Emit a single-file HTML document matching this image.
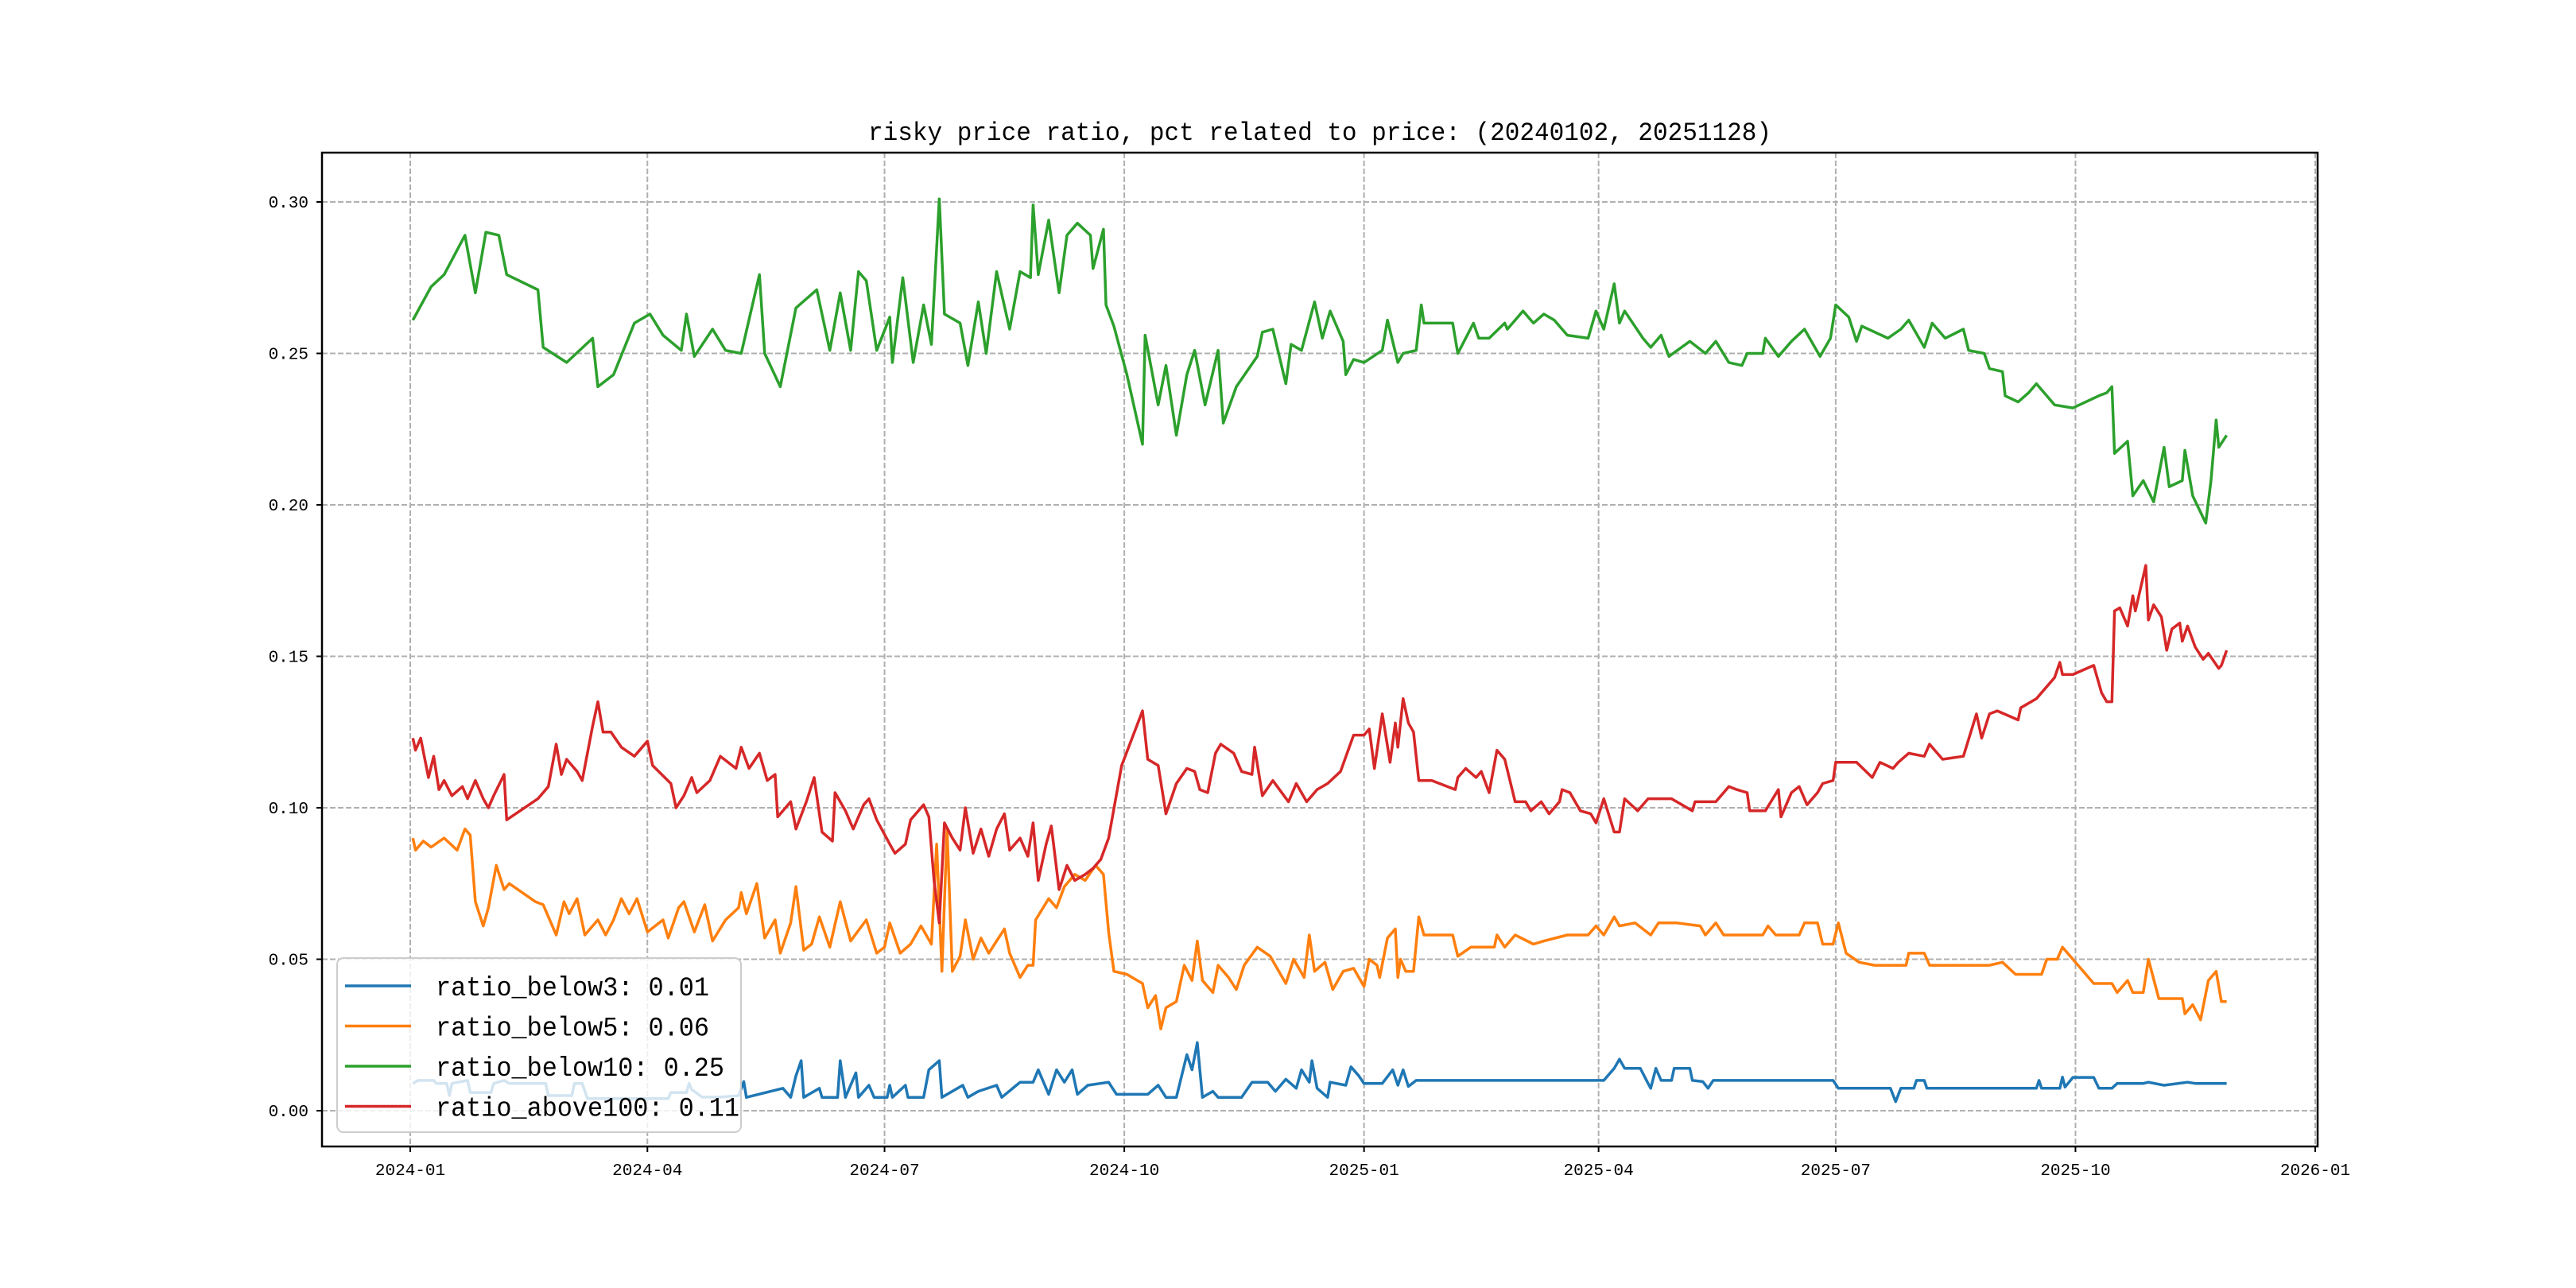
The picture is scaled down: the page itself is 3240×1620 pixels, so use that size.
<!DOCTYPE html>
<html><head><meta charset="utf-8"><style>
html,body{margin:0;padding:0;background:#fff;}
svg{display:block;}
text{font-family:"Liberation Mono","WenQuanYi Zen Hei",monospace;fill:#000;}
</style></head><body>
<svg id="chart" width="3240" height="1620" viewBox="0 0 3240 1620">
<rect width="3240" height="1620" fill="#fff"/>
<g id="grid"></g>
<g id="series"></g>
<rect x="405" y="192" width="2510" height="1250" fill="none" stroke="#000" stroke-width="2.5"/>
<g id="ticks"></g>
<text x="1660" y="176" text-anchor="middle" font-size="32" textLength="1136" lengthAdjust="spacingAndGlyphs">risky price ratio, pct related to price: (20240102, 20251128)</text>
<g id="legend"></g>
</svg>
<script>
const yTicks=[0.00,0.05,0.10,0.15,0.20,0.25,0.30];
const yTickLabels=["0.00","0.05","0.10","0.15","0.20","0.25","0.30"];
const xTickDays=[0,91,182,274,366,456,547,639,731];
const xTickLabels=["2024-01","2024-04","2024-07","2024-10","2025-01","2025-04","2025-07","2025-10","2026-01"];
const seriesNames=["ratio_below3: 0.01","ratio_below5: 0.06","ratio_below10: 0.25","ratio_above100: 0.11"];
const seriesColors=["#1f77b4","#ff7f0e","#2ca02c","#d62728"];

const blueDays=[1,3,9,10,14,15,16,22,23,31,32,36,38,52,53,62,63,66,68,99,100,106,107,108,112,119,126,128,129,143,146,148,150,151,157,158,164,165,167,171,172,176,178,183,184,185,190,191,197,199,203,204,212,214,218,225,227,234,239,241,245,248,251,254,256,260,268,271,283,287,290,294,298,300,302,304,308,310,319,323,329,332,336,340,342,345,346,348,352,353,359,361,364,366,373,377,379,381,383,386,458,462,464,466,472,475,476,478,480,484,485,491,492,496,498,500,546,548,568,570,572,577,578,581,582,624,625,626,633,634,635,638,646,648,653,655,665,667,673,682,685,697];
const blueValues=[0.009,0.010,0.010,0.009,0.009,0.005,0.009,0.010,0.006,0.006,0.009,0.010,0.009,0.009,0.005,0.005,0.009,0.009,0.004,0.004,0.006,0.006,0.009,0.007,0.0045,0.0045,0.005,0.0096,0.0044,0.0074,0.0044,0.0115,0.0165,0.0044,0.0074,0.0044,0.0044,0.0165,0.0044,0.0125,0.0044,0.0084,0.0044,0.0044,0.0084,0.0044,0.0084,0.0044,0.0044,0.0135,0.0165,0.0044,0.0084,0.0044,0.0064,0.0084,0.0044,0.0094,0.0094,0.0135,0.0054,0.0135,0.0094,0.0135,0.0054,0.0084,0.0094,0.0054,0.0054,0.0084,0.0044,0.0044,0.0185,0.0135,0.0225,0.0044,0.0064,0.0044,0.0044,0.0094,0.0094,0.0064,0.0104,0.0074,0.0135,0.0094,0.0165,0.0074,0.0044,0.0094,0.0084,0.0145,0.0115,0.009,0.009,0.0135,0.0084,0.0135,0.0080,0.010,0.010,0.014,0.017,0.014,0.014,0.009,0.0074,0.014,0.010,0.010,0.014,0.014,0.010,0.0096,0.0074,0.010,0.010,0.0074,0.0074,0.003,0.0074,0.0074,0.010,0.010,0.0074,0.0074,0.010,0.0074,0.0074,0.0111,0.0078,0.011,0.011,0.0074,0.0074,0.009,0.009,0.0094,0.0084,0.0094,0.009,0.009];

const orangeDays=[1,2,5,8,13,18,21,23,25,28,30,33,36,38,48,51,56,59,61,64,67,72,75,78,81,84,87,91,97,99,103,105,109,113,116,121,126,127,129,133,136,140,142,146,148,151,154,157,161,165,169,175,179,182,184,188,192,196,200,202,204,206,208,211,213,216,219,222,225,228,230,234,237,239,240,245,248,251,255,259,263,266,268,270,275,281,283,286,288,290,294,297,300,302,304,308,310,314,317,320,325,330,336,339,343,345,347,351,354,358,362,366,368,371,372,375,378,379,380,382,385,387,389,400,402,407,416,417,420,424,431,435,444,452,455,458,462,464,470,476,479,486,495,497,501,504,519,521,524,533,535,540,542,546,548,551,556,562,574,575,581,583,606,611,616,626,628,632,634,638,646,653,655,659,661,665,667,671,680,681,684,687,690,693,695,697];
const orangeValues=[0.090,0.086,0.089,0.087,0.090,0.086,0.093,0.091,0.069,0.061,0.067,0.081,0.073,0.075,0.069,0.068,0.058,0.069,0.065,0.070,0.058,0.063,0.058,0.063,0.070,0.065,0.070,0.059,0.063,0.057,0.067,0.069,0.059,0.068,0.056,0.063,0.067,0.072,0.065,0.075,0.057,0.063,0.052,0.062,0.074,0.053,0.055,0.064,0.054,0.069,0.056,0.063,0.052,0.054,0.062,0.052,0.055,0.061,0.055,0.088,0.046,0.093,0.046,0.051,0.063,0.050,0.057,0.052,0.056,0.060,0.052,0.044,0.048,0.048,0.063,0.070,0.067,0.074,0.078,0.076,0.081,0.078,0.059,0.046,0.045,0.042,0.034,0.038,0.027,0.034,0.036,0.048,0.043,0.056,0.043,0.039,0.048,0.044,0.040,0.048,0.054,0.051,0.042,0.050,0.044,0.058,0.046,0.049,0.040,0.046,0.047,0.041,0.050,0.048,0.044,0.057,0.060,0.044,0.050,0.046,0.046,0.064,0.058,0.058,0.051,0.054,0.054,0.058,0.054,0.058,0.055,0.056,0.058,0.058,0.061,0.058,0.064,0.061,0.062,0.058,0.062,0.062,0.061,0.058,0.062,0.058,0.058,0.061,0.058,0.058,0.062,0.062,0.055,0.055,0.062,0.052,0.049,0.048,0.048,0.052,0.052,0.048,0.048,0.049,0.045,0.045,0.050,0.050,0.054,0.050,0.042,0.042,0.039,0.043,0.039,0.039,0.050,0.037,0.037,0.032,0.035,0.030,0.043,0.046,0.036,0.036];

const greenDays=[1,8,13,21,25,29,34,37,49,51,60,70,72,78,86,92,97,104,106,109,116,121,127,134,136,142,148,156,161,165,169,172,175,179,184,185,189,193,197,200,203,205,211,214,218,221,225,230,234,238,239,241,245,249,252,256,261,262,266,267,270,275,281,282,287,290,294,298,301,305,310,312,317,325,327,331,336,338,342,347,350,353,358,359,362,366,373,375,379,381,386,388,389,400,402,408,410,414,420,421,427,431,435,439,444,452,455,458,462,464,466,473,476,480,483,491,497,501,506,511,513,519,520,525,530,535,541,545,547,552,555,557,567,572,575,581,584,589,596,598,604,606,611,612,617,621,624,631,638,648,651,653,654,659,661,665,669,673,675,680,681,684,689,691,693,694,697];
const greenValues=[0.261,0.272,0.276,0.289,0.270,0.290,0.289,0.276,0.271,0.252,0.247,0.255,0.239,0.243,0.260,0.263,0.256,0.251,0.263,0.249,0.258,0.251,0.250,0.276,0.250,0.239,0.265,0.271,0.251,0.270,0.251,0.277,0.274,0.251,0.262,0.247,0.275,0.247,0.266,0.253,0.301,0.263,0.260,0.246,0.267,0.250,0.277,0.258,0.277,0.275,0.299,0.276,0.294,0.270,0.289,0.293,0.289,0.278,0.291,0.266,0.259,0.243,0.220,0.256,0.233,0.246,0.223,0.243,0.251,0.233,0.251,0.227,0.239,0.249,0.257,0.258,0.240,0.253,0.251,0.267,0.255,0.264,0.254,0.243,0.248,0.247,0.251,0.261,0.247,0.250,0.251,0.266,0.260,0.260,0.250,0.260,0.255,0.255,0.260,0.258,0.264,0.260,0.263,0.261,0.256,0.255,0.264,0.258,0.273,0.260,0.264,0.255,0.252,0.256,0.249,0.254,0.250,0.254,0.247,0.246,0.250,0.250,0.255,0.249,0.254,0.258,0.249,0.255,0.266,0.262,0.254,0.259,0.255,0.258,0.261,0.252,0.260,0.255,0.258,0.251,0.250,0.245,0.244,0.236,0.234,0.237,0.240,0.233,0.232,0.236,0.237,0.239,0.217,0.221,0.203,0.208,0.201,0.219,0.206,0.208,0.218,0.203,0.194,0.208,0.228,0.219,0.223];

const redDays=[1,2,4,7,9,11,13,16,20,22,25,28,30,32,36,37,49,53,56,58,60,64,66,70,72,74,77,81,86,91,93,100,102,105,108,110,115,119,125,127,130,134,137,140,141,146,148,152,155,158,162,163,167,170,174,176,179,184,186,190,192,197,199,201,203,205,208,211,213,216,219,222,225,228,230,234,237,239,241,244,246,249,252,255,259,262,265,268,273,281,283,287,290,294,298,301,303,306,309,311,316,319,323,324,327,331,337,340,344,348,352,357,362,366,368,370,373,376,378,379,381,383,385,387,392,401,402,405,409,411,414,417,420,424,428,430,434,437,441,442,445,449,453,455,458,462,464,466,471,475,481,484,492,493,501,506,509,513,514,520,525,526,530,533,536,540,542,546,547,550,555,561,564,569,571,575,581,583,588,596,601,603,606,609,617,618,624,631,633,634,638,646,649,651,653,654,656,659,661,662,666,667,669,672,674,676,679,680,682,685,688,690,694,695,697];
const redValues=[0.123,0.119,0.123,0.110,0.117,0.106,0.109,0.104,0.107,0.103,0.109,0.103,0.100,0.104,0.111,0.096,0.103,0.107,0.121,0.111,0.116,0.112,0.109,0.127,0.135,0.125,0.125,0.120,0.117,0.122,0.114,0.108,0.100,0.104,0.110,0.105,0.109,0.117,0.113,0.120,0.113,0.118,0.109,0.111,0.097,0.102,0.093,0.102,0.110,0.092,0.089,0.105,0.099,0.093,0.101,0.103,0.096,0.088,0.085,0.088,0.096,0.101,0.097,0.076,0.062,0.095,0.090,0.086,0.100,0.085,0.093,0.084,0.093,0.098,0.086,0.090,0.084,0.095,0.076,0.088,0.094,0.073,0.081,0.076,0.078,0.080,0.083,0.090,0.114,0.132,0.116,0.114,0.098,0.108,0.113,0.112,0.106,0.105,0.118,0.121,0.118,0.112,0.111,0.120,0.104,0.109,0.102,0.108,0.102,0.106,0.108,0.112,0.124,0.124,0.126,0.113,0.131,0.115,0.128,0.120,0.136,0.128,0.125,0.109,0.109,0.106,0.110,0.113,0.110,0.112,0.105,0.119,0.116,0.102,0.102,0.099,0.102,0.098,0.102,0.106,0.105,0.099,0.098,0.095,0.103,0.092,0.092,0.103,0.099,0.103,0.103,0.103,0.099,0.102,0.102,0.107,0.106,0.105,0.099,0.099,0.106,0.097,0.105,0.107,0.101,0.105,0.108,0.109,0.115,0.115,0.115,0.110,0.115,0.113,0.115,0.118,0.117,0.121,0.116,0.117,0.131,0.123,0.131,0.132,0.129,0.133,0.136,0.143,0.148,0.144,0.144,0.147,0.138,0.135,0.135,0.165,0.166,0.160,0.170,0.165,0.180,0.162,0.167,0.163,0.152,0.159,0.161,0.155,0.160,0.153,0.149,0.151,0.146,0.147,0.152];

const NS="http://www.w3.org/2000/svg";
const X0=405,X1=2915,Y0=192,Y1=1442;
function xScale(d){return 516+d*3.2777;}
function yScale(v){return 1397-v*3810;}
function mk(tag,attrs,parent){const e=document.createElementNS(NS,tag);for(const k in attrs)e.setAttribute(k,attrs[k]);parent.appendChild(e);return e;}
const grid=document.getElementById('grid'),ticks=document.getElementById('ticks'),seriesG=document.getElementById('series'),legend=document.getElementById('legend');

yTicks.forEach((v,i)=>{
  const y=yScale(v);
  const g=mk('line',{x1:X0,x2:X1,y1:y,y2:y,stroke:'#b0b0b0','stroke-width':2,'stroke-dasharray':'7,3'},grid);
  
  
  const t=mk('line',{x1:X0-7,x2:X0,y1:y,y2:y,stroke:'#000','stroke-width':2},ticks);
  
  
  const l=mk('text',{x:X0-17,y:y+7,'text-anchor':'end','font-size':21},ticks);
  l.textContent=yTickLabels[i];
  
  
});
xTickDays.forEach((d,i)=>{
  const x=xScale(d);
  const g=mk('line',{x1:x,x2:x,y1:Y0,y2:Y1,stroke:'#b0b0b0','stroke-width':2,'stroke-dasharray':'7,3'},grid);
  
  
  const t=mk('line',{x1:x,x2:x,y1:Y1,y2:Y1+7,stroke:'#000','stroke-width':2},ticks);
  
  
  const l=mk('text',{x:x,y:Y1+36,'text-anchor':'middle','font-size':21},ticks);
  l.textContent=xTickLabels[i];
  
  
});
const allDays=[blueDays,orangeDays,greenDays,redDays];
const allVals=[blueValues,orangeValues,greenValues,redValues];
const lineNames=['line-ratio-below3','line-ratio-below5','line-ratio-below10','line-ratio-above100'];
allDays.forEach((days,s)=>{
  const pts=days.map((d,i)=>xScale(d).toFixed(1)+','+yScale(allVals[s][i]).toFixed(1)).join(' ');
  const p=mk('polyline',{points:pts,fill:'none',stroke:seriesColors[s],'stroke-width':3.5,'stroke-linejoin':'round'},seriesG);
  
  
});
const box=mk('rect',{x:424,y:1205,width:508,height:219,rx:8,fill:'#fff','fill-opacity':0.8,stroke:'#cccccc','stroke-width':2},legend);


seriesNames.forEach((n,i)=>{
  const y=1240+i*50.5;
  const h=mk('line',{x1:434,x2:517,y1:y,y2:y,stroke:seriesColors[i],'stroke-width':3.5},legend);
  
  
  const t=mk('text',{x:548,y:y+12,'font-size':34,textLength:(n.length*19.1).toFixed(0),lengthAdjust:'spacingAndGlyphs'},legend);
  t.textContent=n;
  
  
});
</script>
</body></html>
